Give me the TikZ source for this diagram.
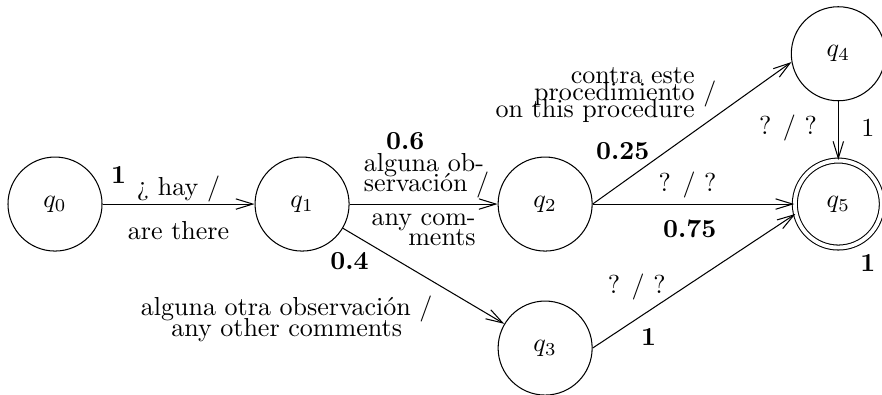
\documentclass[tikz,border=0pt]{standalone}
\usepackage{tikz}
\usetikzlibrary{arrows,arrows.meta,positioning}
\newcommand{\squeezelines}[1]{\fontsize{10}{#1}\selectfont\lineskiplimit=-20pt\relax\lineskip=0pt\relax}

\begin{document}
\begin{tikzpicture}[
    node distance=3.3cm,
    on grid,
    state/.style={circle, draw, minimum size=1.27cm, inner sep=0pt},
    final/.style={state, double, double distance=1.5pt, minimum size=1.175cm},
    arrow/.style={-{Straight Barb[length=6.5pt, width=4pt]}},
    lbl/.style={inner sep=0pt, font=\squeezelines{7.8pt}},
    tightlbl/.style={inner sep=0pt, font=\squeezelines{6.6pt}},
    prob/.style={inner sep=0pt, font=\bfseries}
]
\useasboundingbox (-0.743,-2.567) rectangle (11.17,2.756);

% States
\node[state] (q0) {$q_0$};
\node[state, right=3.337cm of q0] (q1) {$q_1$};
\node[state, right=3.283cm of q1] (q2) {$q_2$};
\node[state, below=1.945cm of q2] (q3) {$q_3$};
\node[final, right=3.96cm of q2] (q5) {$q_5$};
\node[state, above=2.03cm of q5] (q4) {$q_4$};

% Transitions
\draw[arrow] (q0) --
    node[prob, pos=0.105, yshift=0.39cm] (p01) {1}
    node[lbl, pos=0.5, yshift=0.20cm] (t01a) {¿ hay /}
    node[lbl, pos=0.5, yshift=-0.365cm] (t01b) {are there} (q1);
\draw[arrow] (q1) --
    node[prob, pos=0.376, yshift=0.85cm] (p12) {0.6}
    node[lbl, pos=0.52, yshift=0.38cm, align=left] (t12a) {alguna ob-\\servación /}
    node[lbl, pos=0.5, yshift=-0.35cm, align=right] (t12b) {any com-\\ments} (q2);
\draw[arrow] (q1) --
    node[prob, pos=0.04, yshift=-0.39cm] (p13) {0.4}
    node[lbl, pos=0.5, xshift=-1.85cm, yshift=-0.58cm, align=center] (t13) {alguna otra observación /\\any other comments} (q3);
\draw[arrow] (q2.east) --
    node[prob, pos=0.2, xshift=-0.13cm, yshift=0.33cm] (p24) {0.25}
    node[tightlbl, pos=0.5, xshift=-1.31cm, yshift=0.51cm, align=right] (t24) {contra este\\procedimiento\rlap{\ /}\\on this procedure} (q4.190);
\draw[arrow] (q2) --
    node[lbl, pos=0.5, xshift=-0.08cm, yshift=0.26cm] (t25) {? / ?}
    node[prob, pos=0.5, xshift=-0.05cm, yshift=-0.34cm] (p25) {0.75} (q5);
\draw[arrow] (q3.east) --
    node[lbl, pos=0.25, xshift=-0.09cm, yshift=0.37cm] (t35) {? / ?}
    node[prob, pos=0.25, xshift=0.07cm, yshift=-0.30cm] (p35) {1} (q5.193);
\draw[arrow] (q4) --
    node[lbl, pos=0.5, xshift=-0.68cm, yshift=0.04cm] (t45) {? / ?}
    node[lbl, pos=0.5, xshift=0.40cm, yshift=0.04cm] (p45) {1} (q5);

% Final weight
\node[prob, xshift=0.40cm, yshift=-0.79cm] (p5) at (q5) {1};

\end{tikzpicture}
\end{document}
